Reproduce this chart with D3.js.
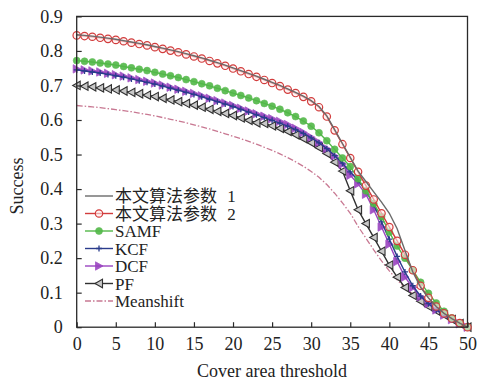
<!DOCTYPE html>
<html><head><meta charset="utf-8">
<script src="https://cdn.jsdelivr.net/npm/d3@7"></script>
<style>
html,body{margin:0;padding:0;background:#fff;}
svg{display:block;}
</style></head><body>
<svg id="c" width="478" height="382"></svg>
<script>
const thresholds = d3.range(0, 51);
const xTicks = [0,5,10,15,20,25,30,35,40,45,50];
const yTicks = [0,0.1,0.2,0.3,0.4,0.5,0.6,0.7,0.8,0.9];
const xTitle = "Cover area threshold";
const yTitle = "Success";
const seriesNames = ["本文算法参数 1","本文算法参数 2","SAMF","KCF","DCF","PF","Meanshift"];

const param1 = [.847,.845,.843,.840,.837,.834,.830,.826,.822,.818,.813,.808,.803,.798,.792,.786,.780,.773,.766,.759,.751,.743,.735,.727,.718,.709,.700,.690,.680,.669,.656,.639,.612,.572,.532,.492,.452,.422,.392,.362,.330,.285,.222,.160,.115,.085,.060,.040,.025,.012,0];
const param2 = [.845,.843,.841,.838,.835,.832,.828,.824,.820,.816,.811,.806,.801,.796,.790,.784,.778,.771,.764,.757,.749,.741,.733,.725,.716,.707,.698,.688,.678,.667,.654,.637,.610,.570,.530,.490,.450,.410,.370,.330,.290,.250,.210,.165,.120,.085,.060,.040,.025,.012,0];
const samf = [.772,.770,.768,.765,.762,.759,.755,.751,.747,.743,.738,.733,.728,.723,.717,.711,.705,.699,.692,.685,.678,.671,.664,.656,.648,.640,.631,.621,.610,.597,.582,.563,.540,.515,.490,.465,.430,.395,.358,.320,.275,.235,.200,.165,.130,.098,.070,.046,.027,.012,0];
const kcf = [.745,.742,.739,.736,.732,.728,.724,.719,.714,.709,.704,.698,.692,.686,.680,.674,.667,.660,.653,.646,.639,.631,.623,.615,.607,.599,.591,.582,.572,.561,.548,.534,.517,.497,.475,.450,.425,.395,.355,.305,.255,.205,.160,.120,.090,.068,.050,.035,.022,.010,0];
const dcf = [.748,.745,.742,.739,.735,.731,.727,.722,.717,.712,.707,.701,.695,.689,.683,.677,.670,.663,.656,.649,.642,.634,.626,.618,.611,.604,.596,.587,.576,.564,.550,.535,.517,.496,.472,.440,.415,.385,.340,.290,.240,.190,.145,.115,.088,.068,.050,.035,.022,.010,0];
const pf = [.700,.698,.696,.693,.690,.687,.684,.680,.676,.672,.668,.663,.658,.653,.648,.643,.637,.631,.625,.619,.613,.606,.599,.592,.590,.583,.576,.567,.557,.546,.534,.520,.503,.478,.452,.395,.340,.300,.260,.220,.180,.145,.115,.092,.075,.060,.047,.035,.022,.010,0];
const meanshift = [.642,.640,.638,.636,.633,.630,.627,.624,.620,.616,.612,.607,.602,.597,.592,.586,.580,.574,.567,.560,.553,.546,.538,.530,.521,.512,.502,.491,.479,.466,.451,.434,.413,.388,.360,.330,.292,.258,.224,.192,.163,.137,.114,.097,.078,.061,.046,.033,.021,.010,0];

const seriesValues = [param1,param2,samf,kcf,dcf,pf,meanshift];
const styles = [
  {color:"#6a6a6a", marker:"none", width:1.4},
  {color:"#d23c3c", marker:"circleOpen", width:1.4},
  {color:"#52b848", marker:"circleFill", width:1.4},
  {color:"#2a3c8c", marker:"plus", width:1.4},
  {color:"#9a44c0", marker:"triRight", width:1.4},
  {color:"#303030", marker:"triLeft", width:1.4},
  {color:"#c87892", marker:"none", width:1.3, dash:"6,2,1.5,2"}
];

const SERIF = '"Liberation Serif","DejaVu Serif",serif';
const SERIF_CJK = '"Liberation Serif","Noto Sans CJK SC",serif';

const svg = d3.select("#c");
const L=76.7, R=467.5, T=16.4, B=327.2;
const x = d3.scaleLinear().domain([0,50]).range([L,R]);
const y = d3.scaleLinear().domain([0,0.9]).range([B,T]);

const plot = svg.append("g");
const line = d3.line().x((d,i)=>x(thresholds[i])).y(d=>y(d));

function drawMarker(g, type, color, cx, cy){
  if(type==="circleOpen"){
    g.append("circle").attr("cx",cx).attr("cy",cy).attr("r",3.7).attr("fill","rgba(255,235,235,0.6)").attr("stroke",color).attr("stroke-width",1.2);
  } else if(type==="circleFill"){
    g.append("circle").attr("cx",cx).attr("cy",cy).attr("r",3.5).attr("fill",color).attr("stroke",color).attr("stroke-width",0.6).attr("opacity",0.9);
  } else if(type==="plus"){
    g.append("path").attr("d",`M${cx-3},${cy}H${cx+3}M${cx},${cy-3}V${cy+3}`).attr("stroke",color).attr("stroke-width",1.3);
  } else if(type==="triRight"){
    g.append("path").attr("d",`M${cx+4},${cy}L${cx-3.5},${cy-4.2}L${cx-3.5},${cy+4.2}Z`).attr("fill",color).attr("stroke",color).attr("stroke-width",0.8).attr("opacity",0.9);
  } else if(type==="triLeft"){
    g.append("path").attr("d",`M${cx-4},${cy}L${cx+3.5},${cy-4.2}L${cx+3.5},${cy+4.2}Z`).attr("fill","#c8c8c8").attr("stroke",color).attr("stroke-width",1.1);
  }
}

const order = [6,5,4,3,2,1,0];
order.forEach(si=>{
  const st = styles[si], vals = seriesValues[si];
  const g = plot.append("g");
  g.append("path").datum(vals).attr("d",line).attr("fill","none")
    .attr("stroke",st.color).attr("stroke-width",st.width)
    .attr("stroke-dasharray",st.dash||null);
  if(st.marker!=="none"){
    vals.forEach((v,i)=>drawMarker(g, st.marker, st.color, x(thresholds[i]), y(v)));
  }
});

// frame
svg.append("rect").attr("x",L).attr("y",T).attr("width",R-L).attr("height",B-T)
  .attr("fill","none").attr("stroke","#2a2a2a").attr("stroke-width",1.3);

// axes with inward ticks
const xAxis = d3.axisBottom(x).tickValues(xTicks).tickSizeInner(-5).tickSizeOuter(0).tickPadding(10).tickFormat(d3.format("d"));
const gx = svg.append("g").attr("transform",`translate(0,${B})`).call(xAxis);
gx.select(".domain").remove();
gx.selectAll("line").attr("stroke","#2a2a2a").attr("stroke-width",1.2);
gx.selectAll("text").style("font-size","18px").style("font-family",SERIF).attr("fill","#222");

const yAxis = d3.axisLeft(y).tickValues(yTicks).tickSizeInner(-5).tickSizeOuter(0).tickPadding(14)
  .tickFormat(d=> d===0 ? "0" : d3.format(".1f")(d));
const gy = svg.append("g").attr("transform",`translate(${L},0)`).call(yAxis);
gy.select(".domain").remove();
gy.selectAll("line").attr("stroke","#2a2a2a").attr("stroke-width",1.2);
gy.selectAll("text").style("font-size","18px").style("font-family",SERIF).attr("fill","#222");

svg.append("text").attr("x",(L+R)/2).attr("y",377).attr("text-anchor","middle")
  .style("font-size","18px").style("font-family",SERIF).attr("fill","#222").text(xTitle);
svg.append("text").attr("transform","translate(23,186) rotate(-90)").attr("text-anchor","middle")
  .style("font-size","18px").style("font-family",SERIF).attr("fill","#222").text(yTitle);

// legend
const lg = svg.append("g");
const ly0 = 196, ldy = 17.5;
seriesNames.forEach((name,i)=>{
  const st = styles[i];
  const cy = ly0 + i*ldy;
  lg.append("line").attr("x1",85).attr("x2",113).attr("y1",cy).attr("y2",cy)
    .attr("stroke",st.color).attr("stroke-width",st.width).attr("stroke-dasharray",st.dash||null);
  if(st.marker!=="none") drawMarker(lg, st.marker, st.color, 99, cy);
  const t = lg.append("text").attr("x",115).attr("y",cy+6)
    .style("font-size","17px").style("font-family",SERIF_CJK).attr("fill","#222");
  const m = name.match(/^(.*) (\d)$/);
  if(m){
    t.append("tspan").text(m[1]+" ");
    t.append("tspan").attr("dx",6).text(m[2]);
  } else t.text(name);
});
</script>
</body></html>
